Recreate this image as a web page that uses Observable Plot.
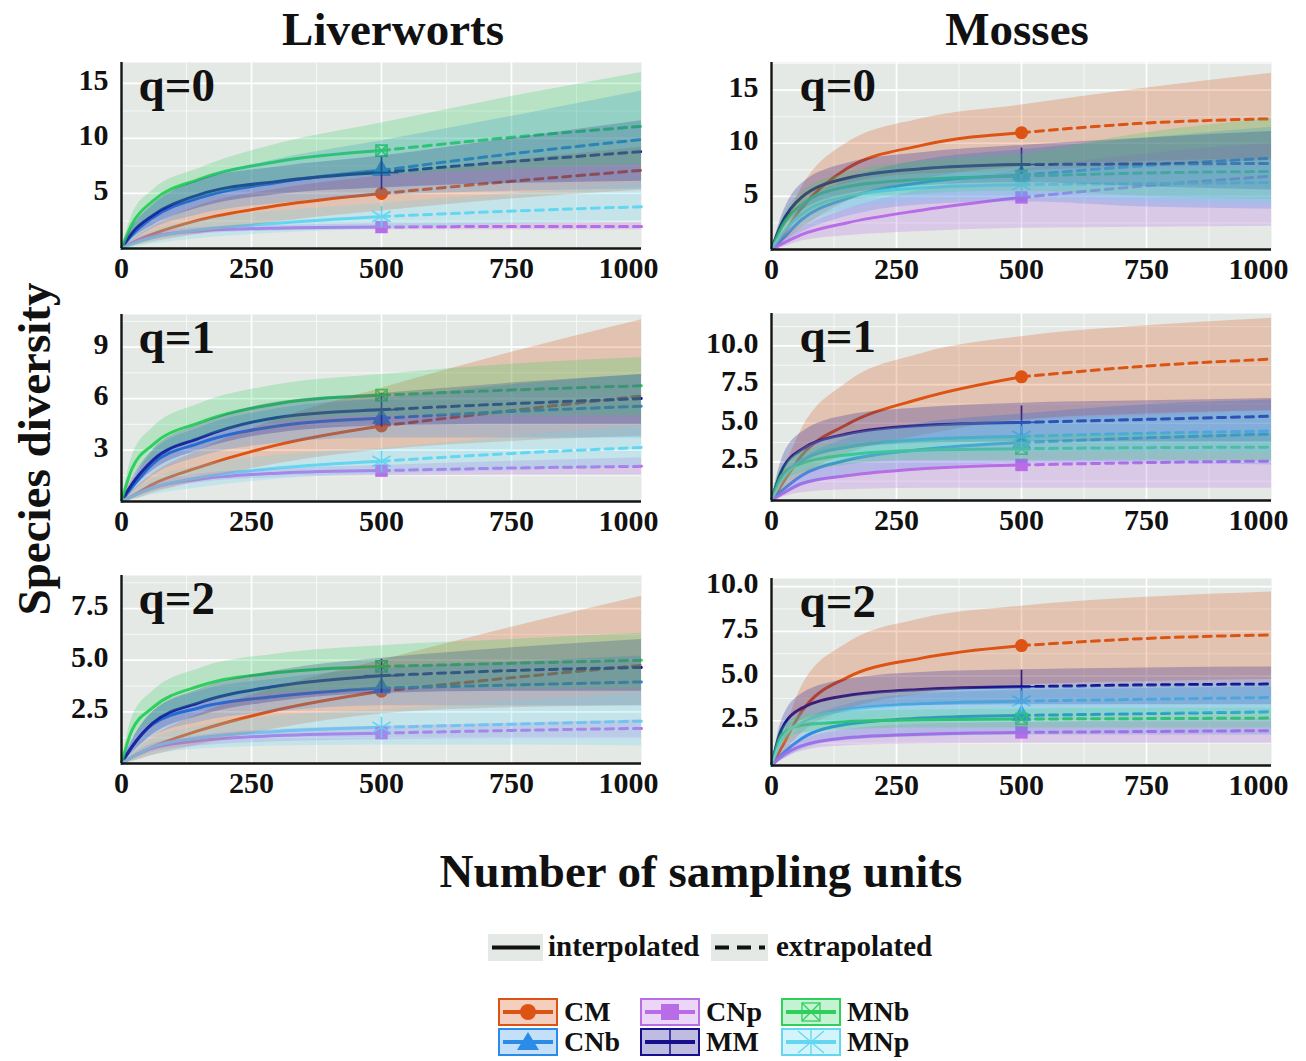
<!DOCTYPE html>
<html><head><meta charset="utf-8">
<script src="https://cdn.jsdelivr.net/npm/d3@7"></script>
<script src="https://cdn.jsdelivr.net/npm/@observablehq/plot@0.6"></script>
<style>
body{margin:0;background:#fff;}
#root{position:relative;width:1306px;height:1061px;overflow:hidden;font-family:"Liberation Serif","Times New Roman",serif;}
#root > svg{position:absolute;}
</style></head><body><div id="root"></div>
<script>
// ---------------- DATA ----------------
const samplingUnits = [0, 20, 60, 150, 300, 500, 750, 1000];
const referenceSize = 500;
const seriesNames = ["CM", "CNb", "CNp", "MM", "MNb", "MNp"];
const seriesColors = ["#dc5314", "#2b8be6", "#b86ce6", "#16108f", "#2fcf5e", "#63d6f2"];
const xTicks = [0, 250, 500, 750, 1000];
const columnTitles = ["Liverworts", "Mosses"];
const qLabels = ["q=0", "q=1", "q=2"];

// Liverworts q=0 (rows in seriesNames order)
const liv_q0_est = [
  [0, 0.5, 1.3, 2.6, 3.9, 5.0, 6.1, 7.1],
  [0, 1.2, 2.8, 4.6, 6.0, 7.1, 8.6, 9.9],
  [0, 0.5, 1.1, 1.6, 1.85, 1.95, 2.0, 2.0],
  [0, 1.4, 3.0, 4.9, 6.1, 6.9, 7.9, 8.8],
  [0, 2.2, 4.3, 6.3, 7.9, 8.9, 10.1, 11.1],
  [0, 0.4, 1.0, 1.7, 2.3, 2.9, 3.4, 3.8]];
const liv_q0_lo = [
  [0, 0.2, 0.6, 1.3, 2.4, 3.4, 4.5, 5.3],
  [0, 0.7, 1.8, 3.1, 4.1, 4.8, 5.2, 5.4],
  [0, 0.3, 0.8, 1.3, 1.6, 1.7, 1.7, 1.7],
  [0, 0.9, 2.1, 3.7, 4.9, 5.5, 5.9, 6.1],
  [0, 1.4, 3.0, 4.6, 5.9, 6.6, 7.2, 7.6],
  [0, 0.1, 0.4, 0.9, 1.4, 1.8, 2.2, 2.5]];
const liv_q0_hi = [
  [0, 0.8, 2.0, 3.9, 5.4, 6.6, 8.0, 9.2],
  [0, 1.8, 3.9, 6.2, 8.1, 9.8, 12.0, 14.3],
  [0, 0.7, 1.4, 1.9, 2.1, 2.25, 2.3, 2.35],
  [0, 1.9, 4.0, 6.2, 7.4, 8.4, 10.0, 11.6],
  [0, 3.0, 5.3, 7.3, 9.5, 11.4, 13.8, 16.0],
  [0, 0.7, 1.6, 2.6, 3.4, 4.1, 5.0, 5.8]];

// Liverworts q=1
const liv_q1_est = [
  [0, 0.3, 1.0, 2.0, 3.3, 4.4, 5.3, 6.15],
  [0, 0.8, 2.2, 3.4, 4.4, 4.85, 5.25, 5.55],
  [0, 0.3, 0.8, 1.3, 1.65, 1.8, 1.95, 2.05],
  [0, 1.0, 2.4, 3.7, 4.9, 5.35, 5.7, 6.0],
  [0, 1.9, 3.3, 4.6, 5.7, 6.2, 6.5, 6.75],
  [0, 0.3, 0.8, 1.4, 1.95, 2.35, 2.8, 3.15]];
const liv_q1_lo = [
  [0, 0.1, 0.5, 1.2, 2.2, 3.0, 3.5, 3.8],
  [0, 0.5, 1.5, 2.6, 3.4, 3.7, 3.7, 3.7],
  [0, 0.2, 0.6, 1.1, 1.4, 1.5, 1.55, 1.55],
  [0, 0.7, 1.8, 3.0, 4.0, 4.4, 4.5, 4.5],
  [0, 1.3, 2.5, 3.7, 4.6, 5.0, 5.0, 5.0],
  [0, 0.1, 0.4, 0.8, 1.3, 1.6, 1.8, 2.0]];
const liv_q1_hi = [
  [0, 0.6, 1.6, 3.0, 4.8, 6.6, 8.7, 10.6],
  [0, 1.1, 2.9, 4.3, 5.4, 6.0, 6.8, 7.4],
  [0, 0.4, 1.0, 1.6, 1.9, 2.1, 2.35, 2.55],
  [0, 1.3, 3.0, 4.5, 5.8, 6.3, 6.9, 7.4],
  [0, 2.6, 4.3, 5.7, 6.8, 7.4, 8.0, 8.4],
  [0, 0.5, 1.3, 2.1, 2.7, 3.1, 3.8, 4.4]];

// Liverworts q=2
const liv_q2_est = [
  [0, 0.3, 0.8, 1.6, 2.6, 3.5, 4.15, 4.75],
  [0, 0.8, 1.9, 2.7, 3.25, 3.65, 3.8, 3.95],
  [0, 0.3, 0.75, 1.1, 1.35, 1.47, 1.6, 1.7],
  [0, 0.8, 1.95, 2.95, 3.75, 4.25, 4.5, 4.65],
  [0, 1.6, 2.7, 3.75, 4.4, 4.7, 4.85, 5.0],
  [0, 0.3, 0.8, 1.25, 1.55, 1.75, 1.9, 2.05]];
const liv_q2_lo = [
  [0, 0.1, 0.4, 0.9, 1.7, 2.4, 2.7, 2.8],
  [0, 0.5, 1.3, 2.0, 2.5, 2.8, 2.8, 2.8],
  [0, 0.2, 0.55, 0.85, 1.05, 1.15, 1.2, 1.2],
  [0, 0.5, 1.4, 2.3, 3.0, 3.4, 3.5, 3.5],
  [0, 1.1, 2.0, 2.9, 3.4, 3.6, 3.6, 3.6],
  [0, 0.1, 0.4, 0.7, 0.85, 0.9, 0.9, 0.85]];
const liv_q2_hi = [
  [0, 0.5, 1.3, 2.4, 3.7, 5.0, 6.6, 8.1],
  [0, 1.1, 2.5, 3.5, 4.1, 4.6, 4.9, 5.2],
  [0, 0.4, 0.95, 1.35, 1.65, 1.8, 1.95, 2.1],
  [0, 1.1, 2.5, 3.6, 4.5, 5.1, 5.6, 6.0],
  [0, 2.2, 3.5, 4.6, 5.3, 5.7, 6.0, 6.3],
  [0, 0.5, 1.2, 1.8, 2.3, 2.6, 3.0, 3.4]];

// Mosses q=0
const mos_q0_est = [
  [0, 1.2, 3.9, 7.6, 9.8, 11.0, 11.9, 12.3],
  [0, 0.9, 2.8, 4.8, 6.3, 7.0, 7.9, 8.6],
  [0, 0.5, 1.4, 2.5, 3.7, 4.9, 6.0, 6.9],
  [0, 2.4, 4.9, 6.7, 7.6, 8.0, 8.05, 8.1],
  [0, 2.1, 4.2, 5.9, 6.6, 6.9, 7.2, 7.35],
  [0, 1.4, 3.3, 5.0, 5.8, 6.1, 6.2, 6.3]];
const mos_q0_lo = [
  [0, 0.6, 2.0, 4.5, 6.6, 7.8, 8.3, 8.6],
  [0, 0.5, 1.6, 3.1, 4.2, 4.5, 4.0, 3.8],
  [0, 0.2, 0.8, 1.3, 1.7, 2.0, 2.1, 2.2],
  [0, 1.7, 3.6, 5.2, 6.0, 6.3, 5.9, 5.6],
  [0, 1.5, 3.0, 4.6, 5.2, 5.5, 5.0, 4.7],
  [0, 0.9, 2.3, 3.8, 4.6, 4.9, 4.5, 4.2]];
const mos_q0_hi = [
  [0, 1.8, 5.8, 10.0, 12.3, 13.6, 15.2, 16.6],
  [0, 1.3, 4.0, 6.5, 8.4, 9.4, 10.5, 11.5],
  [0, 0.8, 2.0, 3.8, 5.6, 7.5, 9.0, 10.0],
  [0, 3.1, 6.2, 8.1, 9.1, 9.8, 10.5, 11.1],
  [0, 2.7, 5.4, 7.2, 8.3, 9.0, 11.0, 12.3],
  [0, 1.9, 4.3, 6.2, 7.1, 7.4, 7.9, 8.4]];

// Mosses q=1
const mos_q1_est = [
  [0, 1.0, 2.9, 4.9, 6.6, 8.0, 8.7, 9.15],
  [0, 0.6, 1.6, 2.6, 3.3, 3.75, 4.05, 4.3],
  [0, 0.4, 1.1, 1.6, 2.05, 2.3, 2.45, 2.55],
  [0, 1.9, 3.3, 4.3, 4.85, 5.05, 5.25, 5.45],
  [0, 1.6, 2.4, 2.95, 3.25, 3.35, 3.42, 3.45],
  [0, 1.3, 2.6, 3.45, 3.95, 4.15, 4.35, 4.5]];
const mos_q1_lo = [
  [0, 0.5, 1.6, 3.0, 4.2, 5.2, 5.6, 5.8],
  [0, 0.3, 0.9, 1.6, 2.1, 2.4, 2.4, 2.3],
  [0, 0.2, 0.5, 0.7, 0.8, 0.8, 0.8, 0.8],
  [0, 1.3, 2.4, 3.3, 3.7, 3.8, 3.8, 3.8],
  [0, 1.1, 1.8, 2.3, 2.6, 2.6, 2.6, 2.6],
  [0, 0.8, 1.9, 2.6, 3.0, 3.1, 3.1, 3.1]];
const mos_q1_hi = [
  [0, 1.6, 4.6, 7.6, 9.5, 10.6, 11.3, 11.8],
  [0, 0.9, 2.5, 4.0, 5.0, 5.6, 6.2, 6.5],
  [0, 0.6, 1.7, 2.6, 3.3, 3.8, 4.1, 4.3],
  [0, 2.6, 4.4, 5.5, 6.0, 6.3, 6.45, 6.6],
  [0, 2.1, 3.1, 3.7, 4.0, 4.2, 4.3, 4.35],
  [0, 1.7, 3.3, 4.3, 4.8, 5.2, 5.5, 5.8]];

// Mosses q=2
const mos_q2_est = [
  [0, 1.0, 3.0, 4.9, 6.0, 6.7, 7.1, 7.3],
  [0, 0.6, 1.5, 2.3, 2.65, 2.8, 2.9, 3.0],
  [0, 0.5, 1.1, 1.55, 1.75, 1.85, 1.9, 1.95],
  [0, 2.0, 3.2, 3.9, 4.25, 4.4, 4.5, 4.55],
  [0, 1.7, 2.25, 2.45, 2.55, 2.6, 2.62, 2.65],
  [0, 1.4, 2.4, 3.1, 3.45, 3.6, 3.7, 3.8]];
const mos_q2_lo = [
  [0, 0.6, 1.8, 3.1, 4.0, 4.5, 4.7, 4.8],
  [0, 0.3, 0.9, 1.4, 1.6, 1.7, 1.7, 1.7],
  [0, 0.3, 0.8, 1.1, 1.2, 1.25, 1.25, 1.25],
  [0, 1.5, 2.5, 3.1, 3.35, 3.4, 3.4, 3.4],
  [0, 1.3, 1.8, 2.0, 2.1, 2.1, 2.1, 2.1],
  [0, 1.0, 1.9, 2.5, 2.8, 2.9, 2.9, 2.9]];
const mos_q2_hi = [
  [0, 1.4, 4.4, 6.8, 8.2, 8.9, 9.4, 9.7],
  [0, 0.9, 2.3, 3.4, 4.0, 4.2, 4.3, 4.4],
  [0, 0.7, 1.4, 2.0, 2.3, 2.4, 2.5, 2.6],
  [0, 2.5, 4.0, 4.8, 5.2, 5.35, 5.45, 5.5],
  [0, 2.1, 2.8, 3.0, 3.1, 3.15, 3.2, 3.2],
  [0, 1.8, 3.0, 3.8, 4.2, 4.35, 4.45, 4.5]];

// ---------------- LAYOUT ----------------
const root = document.getElementById("root");
const FONT = '"Liberation Serif","Times New Roman",serif';
const bg = "#e4e9e6";

const panels = [
  {est: liv_q0_est, lo: liv_q0_lo, hi: liv_q0_hi, q: 0, ymax: 16.9, major: [5, 10, 15], minor: [2.5, 7.5, 12.5], fmt: d3.format("d"), left: 121, right: 641, top: 62, bottom: 248, qdx: 17},
  {est: liv_q1_est, lo: liv_q1_lo, hi: liv_q1_hi, q: 1, ymax: 10.9, major: [3, 6, 9], minor: [1.5, 4.5, 7.5, 10.5], fmt: d3.format("d"), left: 121, right: 641, top: 314, bottom: 501, qdx: 17},
  {est: liv_q2_est, lo: liv_q2_lo, hi: liv_q2_hi, q: 2, ymax: 9.1, major: [2.5, 5, 7.5], minor: [1.25, 3.75, 6.25, 8.75], fmt: d3.format(".1f"), left: 121, right: 641, top: 575, bottom: 763, qdx: 17},
  {est: mos_q0_est, lo: mos_q0_lo, hi: mos_q0_hi, q: 0, ymax: 17.6, major: [5, 10, 15], minor: [2.5, 7.5, 12.5, 17.5], fmt: d3.format("d"), left: 771, right: 1271, top: 62, bottom: 249, qdx: 28},
  {est: mos_q1_est, lo: mos_q1_lo, hi: mos_q1_hi, q: 1, ymax: 12.1, major: [2.5, 5, 7.5, 10], minor: [1.25, 3.75, 6.25, 8.75, 11.25], fmt: d3.format(".1f"), left: 771, right: 1271, top: 313, bottom: 500, qdx: 28},
  {est: mos_q2_est, lo: mos_q2_lo, hi: mos_q2_hi, q: 2, ymax: 10.45, major: [2.5, 5, 7.5, 10], minor: [1.25, 3.75, 6.25, 8.75], fmt: d3.format(".1f"), left: 771, right: 1271, top: 578, bottom: 765, qdx: 28}
];

const markerSpec = {
  CM:  [{symbol: "circle", r: 6.5, kind: "fill"}],
  CNb: [{symbol: "triangle", r: 7, kind: "fill"}],
  CNp: [{symbol: "square", r: 7, kind: "fill"}],
  MM:  [{symbol: "plus", r: 11, kind: "stroke"}],
  MNb: [{symbol: "square2", r: 7, kind: "stroke"}, {symbol: "times", r: 5.5, kind: "stroke"}],
  MNp: [{symbol: "asterisk", r: 10, kind: "stroke"}]
};

const xFmt = d3.format("d");

function makePanel(p) {
  const mL = 70, mR = 40, mT = 5, mB = 45;
  const rows = [];
  seriesNames.forEach((name, s) => samplingUnits.forEach((x, i) =>
    rows.push({series: name, x, est: p.est[s][i], lo: p.lo[s][i], hi: p.hi[s][i]})));
  const interp = rows.filter(d => d.x <= referenceSize);
  const extrap = rows.filter(d => d.x >= referenceSize);
  const obs = rows.filter(d => d.x === referenceSize);
  const markers = [];
  seriesNames.forEach(name => {
    markerSpec[name].forEach(m => {
      const data = obs.filter(d => d.series === name);
      markers.push(m.kind === "fill"
        ? Plot.dot(data, {x: "x", y: "est", symbol: m.symbol, r: m.r, fill: "series", stroke: "none"})
        : Plot.dot(data, {x: "x", y: "est", symbol: m.symbol, r: m.r, fill: "none", stroke: "series", strokeWidth: 1.7}));
    });
  });
  const svg = Plot.plot({
    width: mL + (p.right - p.left) + mR,
    height: mT + (p.bottom - p.top) + mB,
    marginLeft: mL, marginRight: mR, marginTop: mT, marginBottom: mB,
    style: {background: "transparent", fontFamily: FONT, fontSize: "30px", fontWeight: "bold", color: "#111", overflow: "visible"},
    x: {domain: [0, 1000], label: null},
    y: {domain: [0, p.ymax], label: null},
    color: {domain: seriesNames, range: seriesColors},
    marks: [
      Plot.frame({fill: bg, stroke: null}),
      Plot.gridX([125, 375, 625, 875], {stroke: "#fff", strokeOpacity: 0.75, strokeWidth: 0.9}),
      Plot.gridX([250, 500, 750], {stroke: "#fff", strokeOpacity: 1, strokeWidth: 1.7}),
      Plot.gridY(p.minor, {stroke: "#fff", strokeOpacity: 0.75, strokeWidth: 0.9}),
      Plot.gridY(p.major, {stroke: "#fff", strokeOpacity: 1, strokeWidth: 1.7}),
      Plot.line(interp, {x: "x", y: "est", z: "series", stroke: "series", strokeWidth: 3, curve: "monotone-x"}),
      Plot.line(extrap, {x: "x", y: "est", z: "series", stroke: "series", strokeWidth: 3, strokeDasharray: "8,6", curve: "monotone-x"}),
      ...markers,
      Plot.areaY(rows, {x: "x", y1: "lo", y2: "hi", z: "series", fill: "series", fillOpacity: 0.25, curve: "monotone-x"}),
      Plot.ruleX([0], {stroke: "#151515", strokeWidth: 2.4}),
      Plot.ruleY([0], {stroke: "#151515", strokeWidth: 2.4}),
      Plot.axisX(xTicks.slice(0, 4), {tickSize: 0, tickPadding: 8, tickFormat: xFmt, fontSize: 30, fontWeight: "bold", label: null}),
      Plot.axisX(xTicks.slice(4), {tickSize: 0, tickPadding: 8, dx: -13, tickFormat: xFmt, fontSize: 30, fontWeight: "bold", label: null}),
      Plot.axisY(p.major, {tickSize: 0, tickPadding: 13, dy: -3, tickFormat: p.fmt, fontSize: 30, fontWeight: "bold", label: null}),
      Plot.text([qLabels[p.q]], {frameAnchor: "top-left", text: d => d, dx: p.qdx, dy: 23, lineAnchor: "middle", textAnchor: "start", fontSize: 47, fontWeight: "bold", fill: "#111"})
    ]
  });
  svg.style.left = (p.left - mL) + "px";
  svg.style.top = (p.top - mT) + "px";
  root.appendChild(svg);
}

// overlay for titles and legends
const ov = d3.select(root).append("svg")
  .attr("width", 1306).attr("height", 1061)
  .style("left", "0px").style("top", "0px")
  .style("font-family", FONT).style("font-weight", "bold").attr("fill", "#111");

ov.append("text").attr("x", 393).attr("y", 45).attr("text-anchor", "middle").attr("font-size", 47).text(columnTitles[0]);
ov.append("text").attr("x", 1017).attr("y", 45).attr("text-anchor", "middle").attr("font-size", 47).text(columnTitles[1]);
ov.append("text").attr("transform", "translate(50,449) rotate(-90)").attr("text-anchor", "middle").attr("font-size", 47).text("Species diversity");
ov.append("text").attr("x", 701).attr("y", 887).attr("text-anchor", "middle").attr("font-size", 47).text("Number of sampling units");

// line-type legend
ov.append("rect").attr("x", 488).attr("y", 934).attr("width", 55).attr("height", 27).attr("fill", bg);
ov.append("line").attr("x1", 492).attr("x2", 540).attr("y1", 947.5).attr("y2", 947.5).attr("stroke", "#111").attr("stroke-width", 4);
ov.append("text").attr("x", 548).attr("y", 956).attr("font-size", 29).text("interpolated");
ov.append("rect").attr("x", 711).attr("y", 934).attr("width", 57).attr("height", 27).attr("fill", bg);
ov.append("line").attr("x1", 715).attr("x2", 765).attr("y1", 947.5).attr("y2", 947.5).attr("stroke", "#111").attr("stroke-width", 4).attr("stroke-dasharray", "14,8");
ov.append("text").attr("x", 776).attr("y", 956).attr("font-size", 29).text("extrapolated");

// series legend
const colX = [499, 641, 782], rowY = [999, 1029];
seriesNames.forEach((name, i) => {
  const c = seriesColors[i];
  const x = colX[Math.floor(i / 2)], y = rowY[i % 2];
  const w = 58, h = 26, cx = x + w / 2, cy = y + h / 2;
  const g = ov.append("g");
  g.append("rect").attr("x", x).attr("y", y).attr("width", w).attr("height", h)
    .attr("fill", c).attr("fill-opacity", 0.28).attr("stroke", c).attr("stroke-width", 2);
  g.append("line").attr("x1", x + 4).attr("x2", x + w - 4).attr("y1", cy).attr("y2", cy).attr("stroke", c).attr("stroke-width", 4);
  if (name === "CM") g.append("circle").attr("cx", cx).attr("cy", cy).attr("r", 8).attr("fill", c);
  if (name === "CNb") g.append("path").attr("d", `M${cx},${cy - 10}L${cx + 11},${cy + 8}L${cx - 11},${cy + 8}Z`).attr("fill", c);
  if (name === "CNp") g.append("rect").attr("x", cx - 9).attr("y", cy - 8).attr("width", 18).attr("height", 16).attr("fill", c);
  if (name === "MM") g.append("line").attr("x1", cx).attr("x2", cx).attr("y1", y + 1).attr("y2", y + h - 1).attr("stroke", c).attr("stroke-width", 1.5);
  if (name === "MNb") {
    g.append("rect").attr("x", cx - 9).attr("y", cy - 9).attr("width", 18).attr("height", 18).attr("fill", "none").attr("stroke", c).attr("stroke-width", 1.3);
    g.append("path").attr("d", `M${cx - 9},${cy - 9}L${cx + 9},${cy + 9}M${cx + 9},${cy - 9}L${cx - 9},${cy + 9}`).attr("stroke", c).attr("stroke-width", 1.3);
  }
  if (name === "MNp") g.append("path").attr("d", `M${cx},${y + 1}V${y + h - 1}M${cx - 13},${cy - 11}L${cx + 13},${cy + 11}M${cx + 13},${cy - 11}L${cx - 13},${cy + 11}`).attr("stroke", c).attr("stroke-width", 1.3);
  ov.append("text").attr("x", x + w + 7).attr("y", y + 22).attr("font-size", 28).text(name);
});

panels.forEach(makePanel);
</script>
</body></html>
